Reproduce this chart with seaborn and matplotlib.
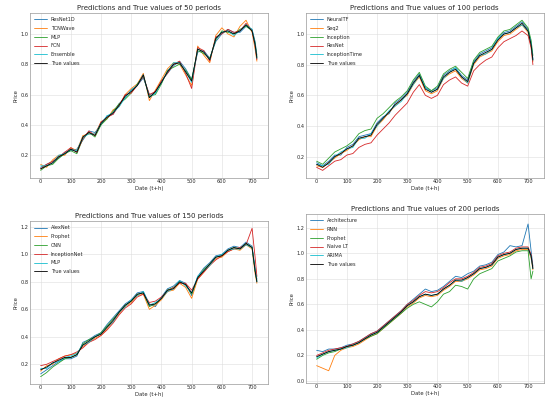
import numpy as np
import pandas as pd
import matplotlib
matplotlib.use('Agg')
import matplotlib.pyplot as plt
import seaborn as sns

# time index of the sampled points
steps = [0, 20, 40, 60, 80, 100, 120, 140, 160, 180, 200, 220, 240, 260, 280, 300, 320, 340,
         360, 380, 400, 420, 440, 460, 480, 500, 520, 540, 560, 580, 600, 620, 640, 660, 680,
         700, 710, 716]

titles = ['Predictions and True values of 50 periods',
          'Predictions and True values of 100 periods',
          'Predictions and True values of 150 periods',
          'Predictions and True values of 200 periods']

names_1 = ['ResNet1D', 'TCNWave', 'MLP', 'FCN', 'Ensemble', 'True values']
names_2 = ['NeuralTF', 'Seq2', 'Inception', 'ResNet', 'InceptionTime', 'True values']
names_3 = ['AlexNet', 'Prophet', 'CNN', 'InceptionNet', 'MLP', 'True values']
names_4 = ['Architecture', 'RNN', 'Prophet', 'Naive LT', 'ARIMA', 'True values']

# panel 1
p1_m1 = [0.12, 0.14, 0.16, 0.18, 0.22, 0.23, 0.24, 0.30, 0.36, 0.35, 0.40, 0.46, 0.47, 0.54, 0.58, 0.63, 0.66, 0.71, 0.60,
         0.61, 0.69, 0.74, 0.79, 0.82, 0.77, 0.70, 0.88, 0.89, 0.84, 0.95, 1.00, 1.03, 1.01, 1.01, 1.05, 1.03, 0.95, 0.86]
p1_m2 = [0.14, 0.12, 0.17, 0.20, 0.20, 0.25, 0.23, 0.33, 0.34, 0.34, 0.42, 0.44, 0.50, 0.52, 0.60, 0.64, 0.67, 0.74, 0.56,
         0.63, 0.70, 0.77, 0.81, 0.80, 0.73, 0.66, 0.92, 0.86, 0.81, 0.99, 1.04, 1.00, 0.98, 1.05, 1.09, 1.01, 0.90, 0.82]
p1_m3 = [0.10, 0.13, 0.14, 0.18, 0.21, 0.23, 0.21, 0.31, 0.35, 0.32, 0.40, 0.44, 0.49, 0.54, 0.57, 0.61, 0.67, 0.72, 0.59,
         0.60, 0.67, 0.76, 0.78, 0.80, 0.76, 0.70, 0.89, 0.87, 0.84, 0.96, 1.02, 1.01, 1.00, 1.03, 1.05, 1.02, 0.94, 0.85]
p1_m4 = [0.11, 0.14, 0.16, 0.19, 0.22, 0.25, 0.22, 0.31, 0.36, 0.33, 0.42, 0.45, 0.47, 0.53, 0.60, 0.61, 0.66, 0.72, 0.60,
         0.62, 0.69, 0.74, 0.80, 0.82, 0.74, 0.64, 0.91, 0.89, 0.82, 0.98, 1.00, 1.03, 1.01, 1.02, 1.07, 1.02, 0.92, 0.83]
p1_m5 = [0.13, 0.13, 0.15, 0.20, 0.21, 0.24, 0.23, 0.32, 0.34, 0.34, 0.41, 0.46, 0.48, 0.52, 0.58, 0.63, 0.66, 0.73, 0.58,
         0.61, 0.68, 0.75, 0.81, 0.81, 0.75, 0.68, 0.90, 0.88, 0.83, 0.97, 1.01, 1.02, 0.99, 1.02, 1.06, 1.03, 0.93, 0.84]
p1_true = [0.11, 0.13, 0.15, 0.19, 0.21, 0.24, 0.22, 0.32, 0.35, 0.33, 0.41, 0.45, 0.48, 0.53, 0.59, 0.62, 0.66, 0.73, 0.58,
           0.62, 0.68, 0.75, 0.80, 0.81, 0.75, 0.69, 0.90, 0.88, 0.83, 0.97, 1.01, 1.02, 1.00, 1.02, 1.06, 1.02, 0.93, 0.84]

# panel 2
p2_m1 = [0.16, 0.14, 0.17, 0.21, 0.21, 0.26, 0.28, 0.33, 0.34, 0.35, 0.42, 0.46, 0.48, 0.55, 0.58, 0.62, 0.69, 0.74, 0.65,
         0.63, 0.65, 0.73, 0.76, 0.78, 0.73, 0.70, 0.82, 0.87, 0.89, 0.91, 0.97, 1.01, 1.02, 1.05, 1.08, 1.03, 0.94, 0.84]
p2_m2 = [0.14, 0.13, 0.16, 0.19, 0.22, 0.24, 0.27, 0.31, 0.33, 0.33, 0.40, 0.44, 0.49, 0.53, 0.57, 0.60, 0.67, 0.72, 0.63,
         0.61, 0.63, 0.71, 0.74, 0.76, 0.71, 0.68, 0.80, 0.85, 0.87, 0.89, 0.95, 0.99, 1.00, 1.03, 1.06, 1.01, 0.92, 0.82]
p2_m3 = [0.17, 0.15, 0.19, 0.23, 0.25, 0.27, 0.30, 0.35, 0.37, 0.38, 0.45, 0.48, 0.52, 0.56, 0.59, 0.63, 0.70, 0.75, 0.66,
         0.63, 0.66, 0.74, 0.77, 0.79, 0.75, 0.71, 0.83, 0.88, 0.90, 0.92, 0.98, 1.02, 1.03, 1.06, 1.09, 1.04, 0.96, 0.86]
p2_m4 = [0.13, 0.11, 0.14, 0.17, 0.18, 0.21, 0.22, 0.26, 0.28, 0.29, 0.34, 0.38, 0.42, 0.47, 0.51, 0.55, 0.62, 0.67, 0.60,
         0.58, 0.60, 0.67, 0.70, 0.72, 0.68, 0.66, 0.76, 0.80, 0.83, 0.85, 0.91, 0.95, 0.97, 0.99, 1.02, 0.99, 0.91, 0.80]
p2_m5 = [0.15, 0.14, 0.15, 0.20, 0.23, 0.25, 0.26, 0.32, 0.32, 0.35, 0.40, 0.45, 0.50, 0.53, 0.56, 0.61, 0.67, 0.73, 0.65,
         0.62, 0.64, 0.71, 0.75, 0.78, 0.72, 0.68, 0.81, 0.86, 0.87, 0.90, 0.97, 1.00, 1.01, 1.04, 1.06, 1.02, 0.94, 0.83]
p2_true = [0.15, 0.13, 0.16, 0.20, 0.22, 0.25, 0.27, 0.32, 0.33, 0.34, 0.41, 0.45, 0.49, 0.54, 0.57, 0.61, 0.68, 0.73, 0.64,
           0.62, 0.64, 0.72, 0.75, 0.77, 0.72, 0.69, 0.81, 0.86, 0.88, 0.90, 0.96, 1.00, 1.01, 1.04, 1.07, 1.02, 0.93, 0.83]

# panel 3
p3_m1 = [0.13, 0.16, 0.19, 0.22, 0.24, 0.24, 0.26, 0.36, 0.38, 0.41, 0.43, 0.49, 0.54, 0.59, 0.64, 0.67, 0.72, 0.73, 0.64,
         0.62, 0.69, 0.75, 0.77, 0.81, 0.79, 0.70, 0.84, 0.90, 0.94, 0.99, 1.00, 1.04, 1.06, 1.05, 1.09, 1.06, 0.90, 0.82]
p3_m2 = [0.15, 0.19, 0.20, 0.24, 0.26, 0.27, 0.28, 0.33, 0.36, 0.39, 0.41, 0.46, 0.51, 0.57, 0.62, 0.65, 0.70, 0.71, 0.60,
         0.63, 0.67, 0.73, 0.74, 0.79, 0.76, 0.68, 0.82, 0.87, 0.92, 0.97, 0.98, 1.02, 1.04, 1.03, 1.07, 1.04, 0.86, 0.79]
p3_m3 = [0.11, 0.14, 0.18, 0.21, 0.24, 0.25, 0.27, 0.35, 0.38, 0.40, 0.43, 0.48, 0.53, 0.58, 0.63, 0.66, 0.71, 0.72, 0.62,
         0.64, 0.68, 0.74, 0.76, 0.80, 0.78, 0.71, 0.83, 0.89, 0.93, 0.98, 0.99, 1.03, 1.05, 1.04, 1.08, 1.05, 0.88, 0.81]
p3_m4 = [0.19, 0.20, 0.22, 0.24, 0.26, 0.27, 0.29, 0.32, 0.36, 0.38, 0.41, 0.45, 0.50, 0.56, 0.61, 0.64, 0.69, 0.71, 0.65,
         0.66, 0.69, 0.73, 0.76, 0.79, 0.79, 0.74, 0.82, 0.87, 0.92, 0.96, 0.99, 1.02, 1.04, 1.05, 1.07, 1.19, 0.98, 0.84]
p3_m5 = [0.17, 0.17, 0.21, 0.22, 0.25, 0.26, 0.28, 0.34, 0.36, 0.40, 0.42, 0.47, 0.51, 0.58, 0.62, 0.67, 0.70, 0.73, 0.63,
         0.65, 0.68, 0.73, 0.75, 0.81, 0.77, 0.72, 0.84, 0.88, 0.92, 0.98, 1.00, 1.03, 1.04, 1.04, 1.07, 1.05, 0.89, 0.80]
p3_true = [0.16, 0.18, 0.21, 0.23, 0.25, 0.25, 0.27, 0.34, 0.37, 0.40, 0.42, 0.47, 0.52, 0.58, 0.63, 0.66, 0.71, 0.72, 0.63,
           0.64, 0.68, 0.74, 0.75, 0.80, 0.78, 0.72, 0.83, 0.88, 0.93, 0.98, 0.99, 1.03, 1.05, 1.04, 1.08, 1.05, 0.88, 0.80]

# panel 4
p4_m1 = [0.24, 0.23, 0.25, 0.25, 0.26, 0.28, 0.29, 0.31, 0.34, 0.37, 0.39, 0.43, 0.47, 0.51, 0.55, 0.60, 0.64, 0.68, 0.72,
         0.70, 0.71, 0.74, 0.78, 0.82, 0.81, 0.84, 0.86, 0.90, 0.91, 0.93, 0.99, 1.01, 1.06, 1.05, 1.06, 1.23, 1.02, 0.90]
p4_m2 = [0.12, 0.10, 0.08, 0.20, 0.24, 0.26, 0.27, 0.29, 0.32, 0.35, 0.37, 0.41, 0.45, 0.49, 0.53, 0.58, 0.61, 0.65, 0.67,
         0.66, 0.67, 0.71, 0.74, 0.78, 0.78, 0.80, 0.83, 0.87, 0.88, 0.90, 0.96, 0.98, 0.99, 1.02, 1.03, 1.03, 0.96, 0.87]
p4_m3 = [0.17, 0.20, 0.22, 0.23, 0.25, 0.27, 0.28, 0.30, 0.33, 0.35, 0.37, 0.41, 0.45, 0.49, 0.53, 0.57, 0.60, 0.62, 0.60,
         0.58, 0.62, 0.68, 0.70, 0.75, 0.74, 0.72, 0.80, 0.84, 0.86, 0.88, 0.94, 0.96, 0.98, 1.01, 1.02, 1.02, 0.80, 0.86]
p4_m4 = [0.20, 0.22, 0.24, 0.25, 0.26, 0.27, 0.29, 0.31, 0.34, 0.37, 0.39, 0.43, 0.47, 0.51, 0.55, 0.60, 0.63, 0.67, 0.70,
         0.69, 0.70, 0.73, 0.77, 0.80, 0.80, 0.82, 0.85, 0.89, 0.90, 0.92, 0.98, 1.00, 1.01, 1.04, 1.05, 1.05, 0.99, 0.89]
p4_m5 = [0.18, 0.21, 0.23, 0.24, 0.25, 0.26, 0.28, 0.30, 0.33, 0.36, 0.38, 0.42, 0.46, 0.50, 0.54, 0.59, 0.62, 0.66, 0.68,
         0.67, 0.68, 0.72, 0.75, 0.79, 0.78, 0.81, 0.84, 0.88, 0.89, 0.91, 0.97, 0.99, 1.00, 1.03, 1.04, 1.04, 0.97, 0.88]
p4_true = [0.19, 0.21, 0.23, 0.24, 0.25, 0.27, 0.28, 0.30, 0.33, 0.36, 0.38, 0.42, 0.46, 0.50, 0.54, 0.59, 0.62, 0.66, 0.68,
           0.67, 0.68, 0.72, 0.75, 0.79, 0.79, 0.81, 0.84, 0.88, 0.89, 0.91, 0.97, 0.99, 1.00, 1.03, 1.04, 1.04, 0.98, 0.88]

panels = [
    (names_1, [p1_m1, p1_m2, p1_m3, p1_m4, p1_m5, p1_true]),
    (names_2, [p2_m1, p2_m2, p2_m3, p2_m4, p2_m5, p2_true]),
    (names_3, [p3_m1, p3_m2, p3_m3, p3_m4, p3_m5, p3_true]),
    (names_4, [p4_m1, p4_m2, p4_m3, p4_m4, p4_m5, p4_true]),
]

sns.set_style('whitegrid')
plt.rcParams['font.family'] = ['DejaVu Sans']

colors = ['#1f77b4', '#ff7f0e', '#2ca02c', '#d62728', '#17becf', 'black']

fig = plt.figure(figsize=(5.52, 3.98), dpi=100)
# axes boxes [left, bottom, width, height] in figure fractions
boxes = [[0.054, 0.553, 0.431, 0.415],
         [0.554, 0.553, 0.431, 0.415],
         [0.054, 0.035, 0.431, 0.410],
         [0.554, 0.038, 0.431, 0.425]]

for k, (names, series) in enumerate(panels):
    ax = fig.add_axes(boxes[k])
    rows = []
    for name, vals in zip(names, series):
        for s, v in zip(steps, vals):
            rows.append({'step': s, 'value': v, 'model': name})
    df = pd.DataFrame(rows)
    sns.lineplot(data=df, x='step', y='value', hue='model', hue_order=names,
                 palette=dict(zip(names, colors)), linewidth=0.6, ax=ax)
    ax.set_title(titles[k], fontsize=5, pad=2)
    ax.set_xlabel('Date (t+h)', fontsize=3.8, labelpad=1)
    ax.set_ylabel('Price', fontsize=3.8, labelpad=1)
    ax.set_xticks([0, 100, 200, 300, 400, 500, 600, 700])
    ax.tick_params(labelsize=3.6, pad=1, length=0)
    for sp in ax.spines.values():
        sp.set_edgecolor('#999999')
        sp.set_linewidth(0.5)
    ax.grid(linewidth=0.4, color='#dddddd')
    if k == 3:
        ax.set_ylim(-0.015, 1.31)
    ax.legend(loc='upper left', fontsize=3.6, frameon=False, handlelength=2.5,
              labelspacing=0.75)

fig.savefig('out.png', dpi=100)
